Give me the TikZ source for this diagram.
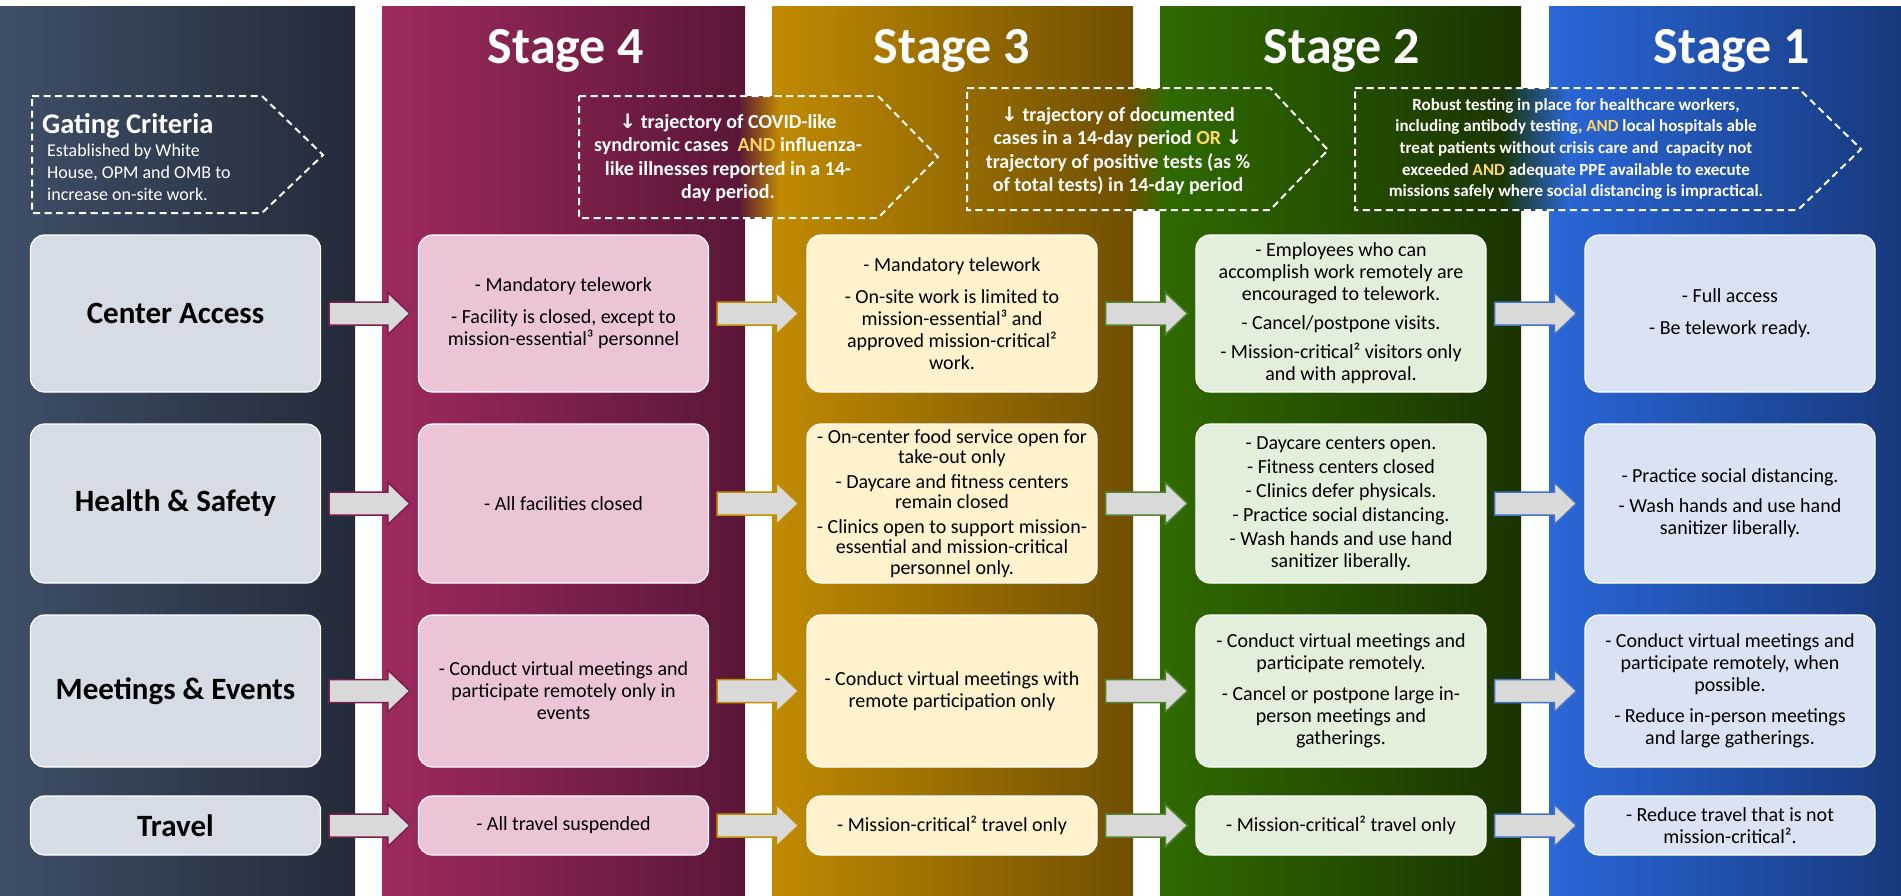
\documentclass[tikz,border=0pt]{standalone}
\usepackage{fontspec}
\setmainfont{Carlito}
\newfontfamily\arrowfont{DejaVu Sans}
\usetikzlibrary{calc}

% band shades (left / right)
\definecolor{gateL}{HTML}{3E4F68}
\definecolor{gateR}{HTML}{232B39}
\definecolor{fourL}{HTML}{9E2A5F}
\definecolor{fourR}{HTML}{5A1638}
\definecolor{threeL}{HTML}{C18A00}
\definecolor{threeR}{HTML}{6F4F02}
\definecolor{twoL}{HTML}{2F6B00}
\definecolor{twoR}{HTML}{1A3300}
\definecolor{oneL}{HTML}{2A67D8}
\definecolor{oneR}{HTML}{17397C}
% box fills
\definecolor{gateFill}{HTML}{D6DCE5}
\definecolor{fourFill}{HTML}{EBC4D8}
\definecolor{threeFill}{HTML}{FFF2CC}
\definecolor{twoFill}{HTML}{E2EFDA}
\definecolor{oneFill}{HTML}{DAE3F3}
% arrows
\definecolor{arrowFill}{HTML}{D9D9D9}
\definecolor{fourB}{HTML}{7B1E4A}
\definecolor{threeB}{HTML}{BF8F00}
\definecolor{twoB}{HTML}{548235}
\definecolor{oneB}{HTML}{4472C4}
\definecolor{andGold}{HTML}{FFD966}

\tikzset{
  cell/.style={rounded corners=14pt, draw=white, line width=1.2pt, minimum width=290pt,
    align=center, inner sep=0pt, font=\fontsize{20}{22}\selectfont},
  rowlabel/.style={cell, fill=gateFill, font=\fontsize{31}{33}\selectfont\bfseries},
  criteria/.style={white, line width=2pt, dash pattern=on 7pt off 4.5pt},
  crittext/.style={text=white, align=center, inner sep=0pt, font=\fontsize{20}{23.5}\selectfont\bfseries},
  stagetitle/.style={text=white, anchor=base, font=\fontsize{52}{52}\selectfont\bfseries},
  blockarrow/.style={fill=arrowFill, line width=1.5pt},
  row1/.style={minimum height=157pt},
  row2/.style={minimum height=159pt},
  row3/.style={minimum height=152pt},
  row4/.style={minimum height=59pt}
}

\newcommand{\stagearrow}[3]{%
  \draw[blockarrow, draw=#3] let \p1=($(#1.east)+(8,0)$), \p2=($(#2.west)+(-8,0)$) in
    (\x1,\y1+11.5pt) -- (\x2-22pt,\y1+11.5pt) -- (\x2-22pt,\y1+21pt) -- (\x2,\y1)
    -- (\x2-22pt,\y1-21pt) -- (\x2-22pt,\y1-11.5pt) -- (\x1,\y1-11.5pt) -- cycle;}

\begin{document}
\begin{tikzpicture}[x=1pt, y=-1pt]
\useasboundingbox (0,0) rectangle (1901,895);

% stage bands
\foreach \xa/\xb/\cl/\cr in {0/355/gateL/gateR, 382/745/fourL/fourR,
    772/1133/threeL/threeR, 1160/1521/twoL/twoR, 1549/1901/oneL/oneR}
  \fill[left color=\cl, right color=\cr] (\xa,6) rectangle (\xb,895);

% criteria bridge the gaps
\fill[left color=fourR, right color=threeL] (738,96) rectangle (780,218);
\fill[left color=threeR, right color=twoL] (1126,88) rectangle (1168,210);
\fill[left color=twoR, right color=oneL] (1500,88) rectangle (1570,210);

% titles
\node[stagetitle] (s4) at (566,63) {Stage 4};
\node[stagetitle] (s3) at (952,63) {Stage 3};
\node[stagetitle] (s2) at (1342,63) {Stage 2};
\node[stagetitle] (s1) at (1732,63) {Stage 1};

% gating criteria
\draw[criteria] (32,96) -- (262,96) -- (323,155) -- (262,213) -- (32,213) -- cycle;
\node[anchor=base west, inner sep=0pt, text=white, font=\fontsize{28.5}{28.5}\selectfont\bfseries]
  (gate) at (42,133) {Gating Criteria};
\node[anchor=north west, inner sep=0pt, text=white, align=left, font=\fontsize{18}{21.7}\selectfont]
  (gatetxt) at (47,144) {Established by White\\House, OPM and OMB to\\increase on-site work.};

\draw[criteria] (579,96) -- (878,96) -- (938,157) -- (878,218) -- (579,218) -- cycle;
\node[crittext] (crit3) at (728,158) {{\arrowfont ↓} trajectory of COVID-like\\
  syndromic cases~ \textcolor{andGold}{AND} influenza-\\like illnesses reported in a 14-\\day period.};

\draw[criteria] (967,88) -- (1270,88) -- (1328,150) -- (1270,210) -- (967,210) -- cycle;
\node[crittext] (crit2) at (1118,151) {{\arrowfont ↓} trajectory of documented\\
  cases in a 14-day period \textcolor{andGold}{OR} {\arrowfont ↓}\\
  trajectory of positive tests (as \%\\of total tests) in 14-day period};

\draw[criteria] (1355,88) -- (1798,88) -- (1861,149) -- (1798,210) -- (1355,210) -- cycle;
\node[crittext, font=\fontsize{17}{21.7}\selectfont\bfseries] (crit1) at (1576,149)
  {Robust testing in place for healthcare workers,\\
  including antibody testing, \textcolor{andGold}{AND} local hospitals able\\
  treat patients without crisis care and~ capacity not\\
  exceeded \textcolor{andGold}{AND} adequate PPE available to execute\\
  missions safely where social distancing is impractical.};

% row labels
\node[rowlabel, row1] (access) at (175.5,313.5) {Center Access};
\node[rowlabel, row2] (health) at (175.5,503.5) {Health \& Safety};
\node[rowlabel, row3] (meet) at (175.5,691) {Meetings \& Events};
\node[rowlabel, row4] (travel) at (175.5,825.5) {Travel};

% center access
\node[cell, row1, fill=fourFill] (access4) at (563.5,313.5)
  {- Mandatory telework\\[10pt]- Facility is closed, except to\\mission-essential³ personnel};
\node[cell, row1, fill=threeFill] (access3) at (952,313.5)
  {- Mandatory telework\\[10pt]- On-site work is limited to\\mission-essential³ and\\
  approved mission-critical²\\work.};
\node[cell, row1, fill=twoFill] (access2) at (1341,313.5)
  {- Employees who can\\accomplish work remotely are\\encouraged to telework.\\[7pt]
  - Cancel/postpone visits.\\[7pt]- Mission-critical² visitors only\\and with approval.};
\node[cell, row1, fill=oneFill] (access1) at (1730,313.5)
  {- Full access\\[10pt]- Be telework ready.};

% health & safety
\node[cell, row2, fill=fourFill] (health4) at (563.5,503.5) {- All facilities closed};
\node[cell, row2, fill=threeFill, font=\fontsize{20}{20.5}\selectfont] (health3) at (952,503.5)
  {- On-center food service open for\\take-out only\\[4pt]- Daycare and fitness centers\\
  remain closed\\[4pt]- Clinics open to support mission-\\essential and mission-critical\\
  personnel only.};
\node[cell, row2, fill=twoFill] (health2) at (1341,503.5)
  {- Daycare centers open.\\[2pt]- Fitness centers closed\\[2pt]- Clinics defer physicals.\\[2pt]
  - Practice social distancing.\\[2pt]- Wash hands and use hand\\sanitizer liberally.};
\node[cell, row2, fill=oneFill] (health1) at (1730,503.5)
  {- Practice social distancing.\\[8pt]- Wash hands and use hand\\sanitizer liberally.};

% meetings & events
\node[cell, row3, fill=fourFill] (meet4) at (563.5,691)
  {- Conduct virtual meetings and\\participate remotely only in\\events};
\node[cell, row3, fill=threeFill] (meet3) at (952,691)
  {- Conduct virtual meetings with\\remote participation only};
\node[cell, row3, fill=twoFill] (meet2) at (1341,691)
  {- Conduct virtual meetings and\\participate remotely.\\[9pt]- Cancel or postpone large in-\\
  person meetings and\\gatherings.};
\node[cell, row3, fill=oneFill] (meet1) at (1730,691)
  {- Conduct virtual meetings and\\participate remotely, when\\possible.\\[9pt]
  - Reduce in-person meetings\\and large gatherings.};

% travel
\node[cell, row4, fill=fourFill] (travel4) at (563.5,825.5) {- All travel suspended};
\node[cell, row4, fill=threeFill] (travel3) at (952,825.5) {- Mission-critical² travel only};
\node[cell, row4, fill=twoFill] (travel2) at (1341,825.5) {- Mission-critical² travel only};
\node[cell, row4, fill=oneFill] (travel1) at (1730,825.5)
  {- Reduce travel that is not\\mission-critical².};

% arrows between stages
\foreach \r in {access,health,meet,travel}{
  \stagearrow{\r}{\r4}{fourB}
  \stagearrow{\r4}{\r3}{threeB}
  \stagearrow{\r3}{\r2}{twoB}
  \stagearrow{\r2}{\r1}{oneB}
}
\end{tikzpicture}
\end{document}
